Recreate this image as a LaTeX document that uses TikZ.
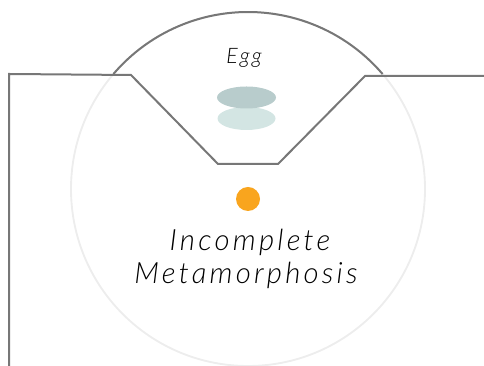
\documentclass[tikz,border=0pt]{standalone}
\usepackage{fontspec}
\setmainfont{Lato}
\newfontfamily\handfont[LetterSpace=11]{Lato Light Italic}
\newfontfamily\eggfont[LetterSpace=10]{Lato Light Italic}
\usetikzlibrary{calc, positioning}

\definecolor{framegray}{HTML}{777777}
\definecolor{ringgray}{HTML}{EDEDED}
\definecolor{eggdark}{HTML}{B8CCCC}
\definecolor{egglight}{HTML}{D3E5E3}
\definecolor{dotorange}{HTML}{F9A51E}

\tikzset{
  frame/.style={line width=1.5pt, framegray, line join=miter},
  label/.style={text=black, inner sep=0pt}
}

\begin{document}
\begin{tikzpicture}[x=0.75pt,y=0.75pt]
\useasboundingbox (0,0) rectangle (484,366);

\coordinate (O) at (248,177);
\coordinate (P1) at (9,0);
\coordinate (P2) at (9,292);
\coordinate (P3) at (131,291);
\coordinate (P4) at (218,202);
\coordinate (P5) at (278,202);
\coordinate (P6) at (365,290);
\coordinate (P7) at (484,290);

% light ring and dark cap above the frame
\draw[ringgray, line width=1.4pt] (O) circle[radius=177];
\draw[frame] ($(O)+(40.5:177)$) arc[start angle=40.5, end angle=139.5, radius=177];

\draw[frame] (P1) -- (P2) -- (P3) -- (P4) -- (P5) -- (P6) -- (P7);

% eggs
\fill[egglight] (246.5,247.5) ellipse[x radius=29, y radius=11.5];
\fill[eggdark] (246.5,268.5) ellipse[x radius=29.5, y radius=11];

\fill[dotorange] (248,167) circle[radius=12];

\node[label, font=\eggfont\fontsize{16}{18}\selectfont] (egg) at (244,308) {Egg};
\node[label, font=\handfont\fontsize{22}{26}\selectfont] (incomplete) at (250,124) {Incomplete};
\node[label, font=\handfont\fontsize{22}{26}\selectfont] (metamorphosis) at (246,91) {Metamorphosis};
\end{tikzpicture}
\end{document}
